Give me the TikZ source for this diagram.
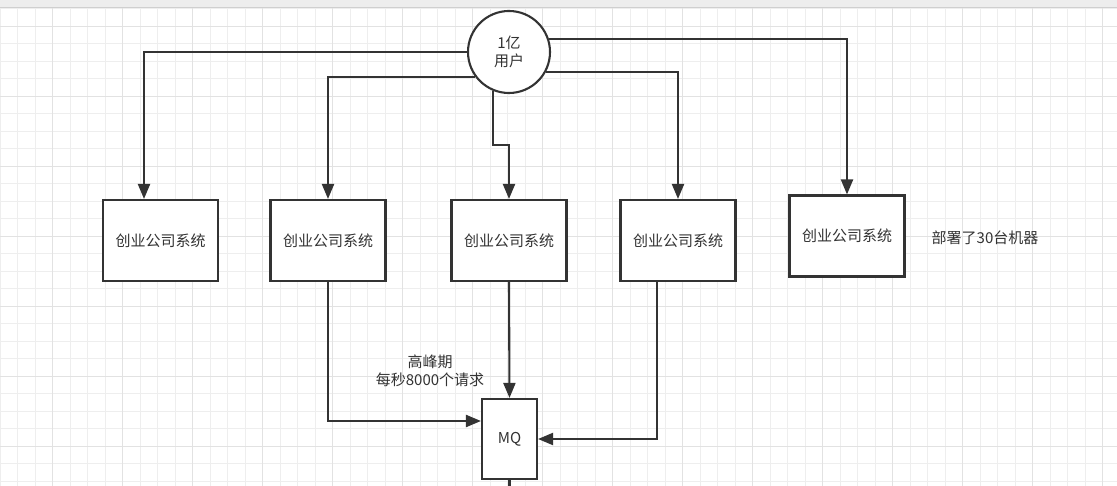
\documentclass[tikz,border=0pt]{standalone}
\usepackage{fontspec}
\setmainfont{Noto Sans CJK SC}
\usetikzlibrary{arrows.meta}
\definecolor{ink}{HTML}{333333}
\definecolor{gridc}{HTML}{EEEEEE}
\definecolor{gridm}{HTML}{E2E2E2}
\definecolor{barc}{HTML}{EDEDED}
\definecolor{barl}{HTML}{CFCFCF}
\tikzset{
  sysbox/.style={draw=ink, line width=2.1pt, fill=white, minimum width=115pt, minimum height=81pt, inner sep=0pt, text=ink, font=\fontsize{15}{18}\selectfont},
  conn/.style={draw=ink, line width=2.1pt, -{Triangle[length=15pt,width=12pt]}},
  plain/.style={draw=ink, line width=2.1pt},
  lbl/.style={text=ink, font=\fontsize{15}{18}\selectfont, align=center, inner sep=0pt}
}
\begin{document}
\begin{tikzpicture}[x=1pt,y=-1pt]
\useasboundingbox (0,0) rectangle (1117,486);
\clip (0,0) rectangle (1117,486);
\fill[white] (0,0) rectangle (1117,486);
% grid
\foreach \i in {0,...,64} {
  \draw[gridc, line width=0.8pt] (17.5*\i,8) -- (17.5*\i,486);
}
\foreach \i in {0,...,27} {
  \draw[gridc, line width=0.8pt] (0,8.5+17.5*\i) -- (1117,8.5+17.5*\i);
}
\foreach \i in {0,...,16} {
  \draw[gridm, line width=0.8pt] (52.5+70*\i,8) -- (52.5+70*\i,486);
}
\foreach \i in {0,...,7} {
  \draw[gridm, line width=0.8pt] (0,26+70*\i) -- (1117,26+70*\i);
}
% toolbar strip
\fill[barc] (0,0) rectangle (1117,7);
\draw[barl, line width=1.2pt] (0,7.5) -- (1117,7.5);

% nodes
\node[circle, draw=ink, line width=2.1pt, fill=white, minimum size=82pt, inner sep=0pt, text=ink, align=center, font=\fontsize{15}{18}\selectfont] (users) at (509,52) {1亿\\用户};
\node[sysbox] (b1) at (160.5,240.5) {创业公司系统};
\node[sysbox] (b2) at (328,240.5) {创业公司系统};
\node[sysbox] (b3) at (509,240.5) {创业公司系统};
\node[sysbox] (b4) at (678,240.5) {创业公司系统};
\node[sysbox] (b5) at (847,236) {创业公司系统};
\node[lbl] (note) at (985,238) {部署了30台机器};
\node[sysbox, minimum width=55pt, minimum height=80pt] (mq) at (509.5,439) {MQ};
\node[lbl] (peak) at (430,371) {高峰期\\每秒8000个请求};
\coordinate (mqout) at (509.5,492);

% connectors from users
\draw[conn] (users.west) -| ([xshift=-16.5pt]b1.north);
\draw[conn] (users.217.6) -| (b2.north);
\draw[conn] (users.248.6) -- ++(0,54) -| (b3.north);
\draw[conn] (users.-28.7) -| (b4.north);
\draw[conn] (users.18.5) -| (b5.north);

% connectors to MQ
\draw[conn] (b2.south) |- ([yshift=18pt]mq.west);
\draw[conn] (b3.south) -- (mq.north);
\draw[conn] ([xshift=-21pt]b4.south) |- (mq.east);
\draw[plain] (mq.south) -- (mqout);
\end{tikzpicture}
\end{document}
